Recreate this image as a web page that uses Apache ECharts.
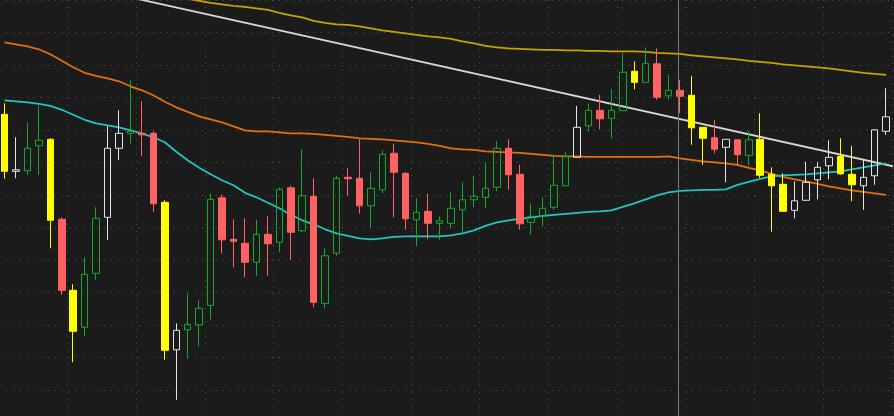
<!DOCTYPE html>
<html>
<head>
<meta charset="utf-8">
<script src="https://cdn.jsdelivr.net/npm/echarts@6/dist/echarts.min.js"></script>
<style>
html,body{margin:0;padding:0;background:#1b1b1b;overflow:hidden;}
#chart{width:894px;height:416px;}
</style>
</head>
<body>
<div id="chart"></div>
<script>
// ---- data ----
const opens = [
49.71, 48.57, 48.58, 49.08, 49.21, 47.61, 46.19, 45.45, 46.53, 47.65,
49.03, 49.33, 49.33, 49.33, 47.95, 45.00, 45.40, 45.50, 45.89, 48.04,
47.21, 47.13, 46.75, 47.31, 47.15, 48.24, 47.38, 48.07, 45.93, 46.93,
48.45, 48.43, 47.88, 48.20, 48.93, 48.53, 47.60, 47.77, 47.53, 47.53,
47.80, 48.00, 48.05, 48.25, 49.03, 48.51, 47.55, 47.67, 47.85, 48.28,
48.85, 49.48, 49.79, 49.63, 49.78, 50.57, 50.35, 50.72, 50.08, 50.19,
50.09, 49.45, 49.24, 49.05, 49.20, 48.89, 49.21, 48.51, 48.31, 47.79,
47.99, 48.40, 48.68, 48.87, 48.51, 48.28, 48.48, 49.37];
const closes = [
48.57, 48.60, 49.03, 49.19, 47.59, 46.19, 45.37, 46.51, 47.63, 49.03,
49.33, 49.37, 49.30, 47.92, 44.99, 45.39, 45.51, 45.83, 48.01, 47.20,
47.17, 46.75, 47.31, 47.12, 48.21, 47.35, 48.08, 45.95, 46.88, 48.43,
48.42, 47.88, 48.23, 48.91, 48.55, 47.62, 47.75, 47.53, 47.58, 47.83,
48.00, 48.07, 48.23, 49.03, 48.50, 47.52, 47.67, 47.83, 48.29, 48.87,
49.45, 49.79, 49.62, 49.79, 50.55, 50.35, 50.73, 50.05, 50.19, 50.07,
49.44, 49.23, 49.01, 49.21, 48.90, 49.20, 48.49, 48.28, 47.77, 47.98,
48.35, 48.65, 48.85, 48.52, 48.30, 48.45, 49.40, 49.66];
const lows = [
48.42, 48.43, 48.50, 48.50, 47.03, 46.10, 44.75, 45.28, 46.40, 47.20,
48.80, 49.13, 48.87, 47.76, 44.80, 44.00, 44.83, 45.07, 45.61, 46.93,
46.65, 46.45, 46.48, 46.48, 46.95, 46.80, 47.36, 45.85, 45.83, 46.88,
48.08, 47.72, 47.43, 48.13, 47.65, 47.40, 47.07, 47.21, 47.20, 47.43,
47.35, 47.85, 47.83, 48.17, 48.20, 47.40, 47.30, 47.47, 47.80, 48.27,
48.85, 49.37, 49.41, 49.23, 49.78, 50.21, 50.35, 50.00, 50.00, 49.73,
49.10, 48.70, 48.93, 48.35, 48.68, 48.68, 48.44, 47.36, 47.76, 47.63,
47.99, 48.01, 48.41, 48.50, 47.97, 47.80, 48.30, 49.30];
const highs = [
49.93, 49.25, 49.55, 49.88, 49.23, 47.65, 46.31, 46.85, 47.85, 49.47,
49.79, 50.39, 49.97, 49.37, 47.99, 45.53, 46.13, 45.99, 48.13, 48.10,
47.61, 47.63, 47.60, 47.67, 48.25, 48.28, 49.01, 48.43, 47.03, 48.48,
48.63, 49.21, 48.55, 48.99, 49.12, 48.55, 48.03, 48.12, 47.67, 48.15,
48.35, 48.48, 48.75, 49.17, 49.21, 48.70, 47.93, 48.05, 48.90, 48.95,
49.88, 49.92, 50.10, 50.21, 50.93, 50.77, 51.05, 51.03, 50.50, 50.39,
50.48, 49.45, 49.60, 49.21, 49.20, 49.38, 49.73, 48.65, 48.53, 48.37,
48.76, 48.75, 49.19, 49.23, 49.08, 48.80, 49.41, 50.23];
// candle paint: Y yellow, R red, G green (hollow), W white (hollow)
const candleKinds = 'YWGGYRYGGW' + 'WGRRYWGGGR' + 'RRGRGRGRGG' + 'RRGGRRGRGG' +
                    'GGGGRRGGGG' + 'WGRGGYGRGR' + 'YYRWRGYYYW' + 'WWWYYWWW';
const maFast = [
49.99, 49.97, 49.95, 49.92, 49.88, 49.80, 49.70, 49.60, 49.53, 49.49,
49.45, 49.39, 49.33, 49.25, 49.15, 48.96, 48.79, 48.64, 48.51, 48.39,
48.29, 48.14, 48.05, 47.94, 47.83, 47.70, 47.59, 47.51, 47.41, 47.33,
47.28, 47.23, 47.21, 47.23, 47.26, 47.27, 47.27, 47.27, 47.27, 47.29,
47.33, 47.39, 47.48, 47.55, 47.59, 47.62, 47.65, 47.68, 47.70, 47.72,
47.74, 47.76, 47.77, 47.79, 47.86, 47.93, 48.01, 48.09, 48.15, 48.18,
48.19, 48.20, 48.20, 48.21, 48.30, 48.36, 48.42, 48.47, 48.49, 48.50,
48.51, 48.53, 48.55, 48.57, 48.61, 48.65, 48.69, 48.73];
const maMid = [
51.15, 51.11, 51.07, 51.01, 50.91, 50.78, 50.65, 50.54, 50.48, 50.43,
50.37, 50.27, 50.19, 50.09, 49.96, 49.85, 49.76, 49.67, 49.61, 49.55,
49.47, 49.39, 49.37, 49.37, 49.35, 49.33, 49.33, 49.32, 49.30, 49.28,
49.26, 49.23, 49.22, 49.21, 49.19, 49.17, 49.15, 49.12, 49.08, 49.03,
49.01, 49.00, 48.97, 48.96, 48.95, 48.94, 48.92, 48.90, 48.88, 48.87,
48.87, 48.86, 48.86, 48.86, 48.86, 48.86, 48.86, 48.86, 48.87, 48.83,
48.80, 48.77, 48.75, 48.73, 48.70, 48.64, 48.59, 48.52, 48.46, 48.41,
48.37, 48.32, 48.27, 48.23, 48.19, 48.16, 48.13, 48.10];
const maSlow = [
'-', '-', '-', '-', '-', '-', '-', '-', '-', '-',
'-', '-', '-', '-', 52.08, 52.05, 52.02, 51.98, 51.94, 51.91,
51.88, 51.86, 51.83, 51.80, 51.74, 51.69, 51.65, 51.58, 51.54, 51.51,
51.50, 51.47, 51.43, 51.39, 51.36, 51.33, 51.30, 51.27, 51.25, 51.22,
51.17, 51.13, 51.08, 51.05, 51.03, 51.02, 51.01, 51.00, 51.00, 50.99,
50.99, 50.98, 50.98, 50.97, 50.97, 50.97, 50.96, 50.94, 50.93, 50.92,
50.89, 50.87, 50.85, 50.83, 50.81, 50.78, 50.76, 50.74, 50.71, 50.69,
50.67, 50.65, 50.63, 50.60, 50.57, 50.54, 50.52, 50.50];
// trend line: bar positions and prices of its two anchor points
const trendBars = [10, 78];
const trendPrices = [52.10, 48.65];
// crosshair cursor position (bar index)
const cursorBar = 58.85;
const categories = opens.map((_, i) => 'D' + (i + 1));

// ---- styles ----
const BG = '#1b1b1b';
const paint = {
  Y: { fill: '#ffff00', edge: '#ffff00' },
  R: { fill: '#ff6262', edge: '#ff6262' },
  G: { fill: 'transparent', edge: '#12aa2a' },
  W: { fill: 'transparent', edge: '#e4e4e4' }
};
const candleData = opens.map((o, i) => {
  const p = paint[candleKinds[i]];
  return {
    value: [o, closes[i], lows[i], highs[i]],
    itemStyle: { color: p.fill, color0: p.fill, borderColor: p.edge, borderColor0: p.edge, borderColorDoji: p.edge, borderWidth: 1 }
  };
});
const gridLine = { color: '#575757', width: 1, type: [1, 6] };

const chart = echarts.init(document.getElementById('chart'), null, { renderer: 'canvas' });
chart.setOption({
  backgroundColor: BG,
  animation: false,
  grid: { left: -1.2, top: -0.2, width: 893.1, height: 422.5, containLabel: false, outerBoundsMode: 'none' },
  xAxis: [
    { type: 'category', data: categories, boundaryGap: true,
      axisLine: { show: false }, axisTick: { show: false }, axisLabel: { show: false },
      splitLine: { show: true, interval: 5, lineStyle: gridLine } },
    { type: 'value', min: -0.5, max: 77.5, show: false, splitLine: { show: false } }
  ],
  yAxis: { type: 'value', min: 43.55, max: 52, interval: 0.65,
    axisLine: { show: false }, axisTick: { show: false }, axisLabel: { show: false },
    splitLine: { show: true, lineStyle: gridLine } },
  series: [
    { name: 'MA slow', type: 'line', data: maSlow, symbol: 'none', smooth: false,
      lineStyle: { color: '#c8a200', width: 1.8 }, z: 2 },
    { name: 'Trend', type: 'line', xAxisIndex: 1, data: trendBars.map((b, i) => [b, trendPrices[i]]),
      symbol: 'none', lineStyle: { color: '#d6d6d6', width: 1.8 }, z: 2 },
    { name: 'MA mid', type: 'line', data: maMid, symbol: 'none',
      lineStyle: { color: '#e2700c', width: 1.8 }, z: 2 },
    { name: 'MA fast', type: 'line', data: maFast, symbol: 'none',
      lineStyle: { color: '#22c4c8', width: 1.8 }, z: 2 },
    { name: 'Price', type: 'candlestick', data: candleData, barWidth: 7, z: 3 },
    { name: 'Cursor', type: 'line', xAxisIndex: 1, data: [], symbol: 'none', z: 4,
      markLine: { silent: true, symbol: ['none', 'none'], label: { show: false },
        lineStyle: { color: '#7a7a7a', width: 1, type: 'solid' },
        data: [{ xAxis: cursorBar }] } }
  ]
});
</script>
</body>
</html>
